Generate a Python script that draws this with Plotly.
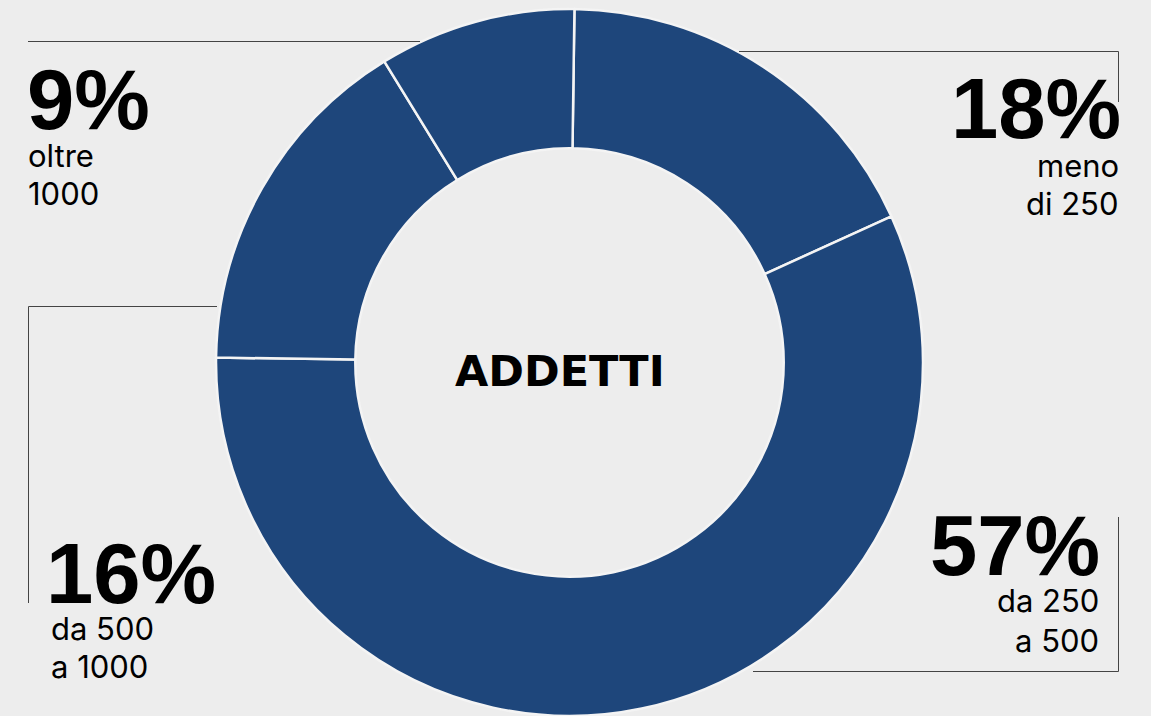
import plotly.graph_objects as go

# ---- data ----
categories = ["meno di 250", "da 250 a 500", "da 500 a 1000", "oltre 1000"]
values = [18, 57, 16, 9]
label_lines = [["meno", "di 250"], ["da 250", "a 500"], ["da 500", "a 1000"], ["oltre", "1000"]]
center_title = "ADDETTI"

W, H = 1151, 716
BG = "#ededed"
BLUE = "#1e467b"
LINE = "#444444"


def px(x):
    return x / W


def py(y):
    return 1 - y / H


fig = go.Figure()
fig.add_trace(go.Pie(
    labels=categories,
    values=values,
    hole=0.606,
    sort=False,
    direction="clockwise",
    rotation=0.8,
    textinfo="none",
    hoverinfo="label+percent",
    marker=dict(colors=[BLUE] * len(values), line=dict(color="#f4f4f4", width=2.5)),
    domain=dict(x=[0.1873, 0.8023], y=[0.0, 0.9874]),
    showlegend=False,
))

# leader lines (pixel coordinates)
leaders = [
    [(739, 51.5), (1118.5, 51.5), (1118.5, 102)],          # meno di 250
    [(1118.5, 517), (1118.5, 671.5), (753, 671.5)],        # da 250 a 500
    [(217, 306.5), (28.5, 306.5), (28.5, 603)],            # da 500 a 1000
    [(420, 41.5), (28, 41.5)],                              # oltre 1000
]
for pts in leaders:
    path = "M " + " L ".join(f"{px(x)},{py(y)}" for x, y in pts)
    fig.add_shape(type="path", path=path, xref="paper", yref="paper",
                  line=dict(color=LINE, width=1))

# label anchors: (x, big-number center y, xanchor, sub-line center ys, sub x)
label_pos = [
    (1120.5, 108.5, "right", [165.7, 203.7], 1119),
    (1100, 545.5, "right", [600.7, 640.7], 1099),
    (46, 573.5, "left", [628.7, 666.7], 51),
    (26.5, 99.5, "left", [155.7, 193.7], 28),
]

annotations = []
for v, lines, (x, yc, xa, sub_ys, sx) in zip(values, label_lines, label_pos):
    annotations.append(dict(
        text=f"{v}%", x=px(x), y=py(yc), xref="paper", yref="paper",
        xanchor=xa, yanchor="middle", showarrow=False, borderpad=0, borderwidth=0,
        font=dict(family="Liberation Sans, Arial", size=85, color="#000", weight="bold"),
    ))
    for line, ly in zip(lines, sub_ys):
        annotations.append(dict(
            text=line, x=px(sx), y=py(ly), xref="paper", yref="paper",
            xanchor=xa, yanchor="middle", showarrow=False, borderpad=0, borderwidth=0,
            font=dict(family="Inter, Liberation Sans, Arial", size=31, color="#000"),
        ))

annotations.append(dict(
    text=center_title, x=px(559.5), y=py(371), xref="paper", yref="paper",
    xanchor="center", yanchor="middle", showarrow=False, borderpad=0, borderwidth=0,
    font=dict(family="DejaVu Sans", size=43, color="#000", weight="bold"),
))

fig.update_layout(
    width=W, height=H,
    margin=dict(l=0, r=0, t=0, b=0),
    paper_bgcolor=BG, plot_bgcolor=BG,
    annotations=annotations,
)

fig.write_html(
    "out.html",
    config={"displayModeBar": False},
    post_script="document.body.style.margin='0';document.body.style.overflow='hidden';document.body.style.background='#ededed';",
)
